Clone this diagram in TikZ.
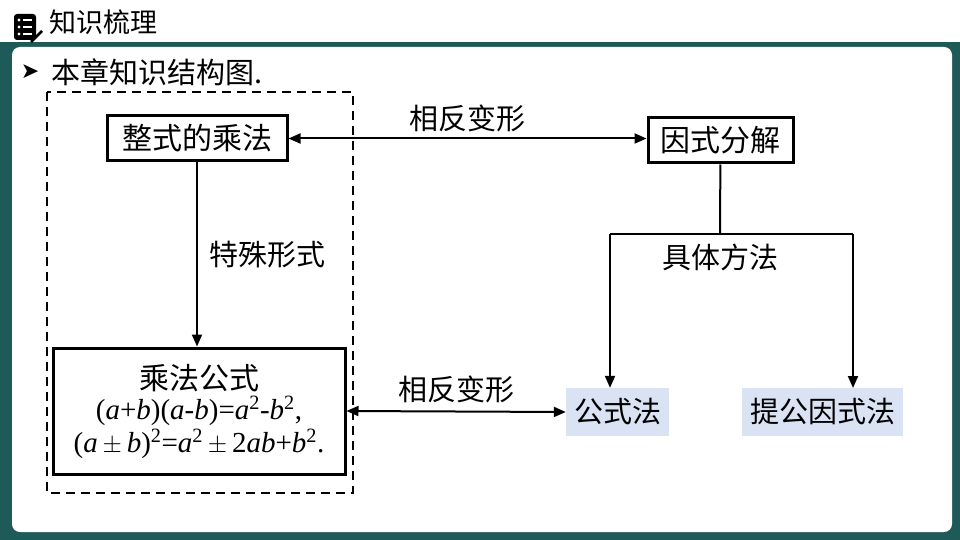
\documentclass[tikz,border=0pt]{standalone}
\usepackage{fontspec}
\setmainfont{Liberation Serif}
\newfontfamily\cjk{Noto Sans CJK SC}
\newfontfamily\sym{DejaVu Sans}
\usetikzlibrary{arrows.meta}
\definecolor{bandteal}{HTML}{1E5A57}
\definecolor{boxblue}{HTML}{DAE3F3}
\newcommand{\va}{\textit{a}}
\newcommand{\vb}{\textit{b}}
\newcommand{\sq}{\textsuperscript{2}}
\tikzset{
  box/.style={draw, line width=3pt, fill=white, minimum height=45pt, inner xsep=6pt, font=\cjk\fontsize{30}{34}\selectfont},
  tag/.style={fill=boxblue, minimum height=48pt, inner xsep=8pt, font=\cjk\fontsize{29}{34}\selectfont},
  lbl/.style={font=\cjk\fontsize{29}{34}\selectfont},
  link/.style={line width=2pt, -{Triangle[length=12pt,width=10pt]}},
  both/.style={line width=2pt, {Triangle[length=12pt,width=10pt]}-{Triangle[length=12pt,width=10pt]}}
}
\begin{document}
\begin{tikzpicture}[x=1pt,y=-1pt]
  \useasboundingbox (0,0) rectangle (960,540);
  % frame
  \fill[bandteal] (0,42) rectangle (960,540);
  \fill[white, rounded corners=8pt] (12,47) rectangle (952,532);
  \fill[black, rounded corners=3pt] (14,14) rectangle (36,40);
  \foreach \y in {20,27,34} {
    \fill[white] (19,\y) circle (1.6pt);
    \draw[white, line width=1.6pt] (23,\y) -- (32,\y);
  }
  \draw[black, line width=2.5pt] (31,42) -- (42,31);
  \node[anchor=west, font=\cjk\fontsize{27}{30}\selectfont] (title) at (46,22) {知识梳理};
  \node[font=\sym\fontsize{22}{26}\selectfont] (mark) at (30,72) {➤};
  \node[anchor=west, font=\cjk\fontsize{29}{32}\selectfont] (head) at (48,72) {本章知识结构图.};
  % structure
  \draw[line width=2pt, dash pattern=on 9pt off 6pt] (47,92) rectangle (353,493);
  \node[box, minimum width=180pt] (mul) at (197,138.5) {整式的乘法};
  \node[box, minimum width=145pt] (fac) at (720.5,140.5) {因式分解};
  \node[box, minimum width=292pt, minimum height=126pt, align=center] (formula) at (199,411) {%
    乘法公式\\[-4pt]
    {\rmfamily\fontsize{29}{34}\selectfont (\va+\vb)(\va-\vb)=\va\sq-\vb\sq,}\\[-1pt]
    {\rmfamily\fontsize{29}{34}\selectfont (\va\,$\pm$\,\vb)\sq=\va\sq\,$\pm$\,2\va\vb+\vb\sq.}};
  \node[tag] (pub) at (617.5,412) {公式法};
  \node[tag] (ext) at (822.5,412) {提公因式法};
  \coordinate (fork) at (720,234);
  \coordinate (forkl) at (610,234);
  \coordinate (forkr) at (853,234);
  \draw[both] (mul.east) -- (fac.west|-mul.east) node[lbl, midway, above=2pt] {相反变形};
  \draw[link] (mul) -- (formula.north-|mul) node[lbl, pos=0.5, right=8pt] {特殊形式};
  \draw[line width=2pt] (fac) -- (fork);
  \draw[line width=2pt] (forkl) -- (forkr);
  \draw[link] (forkl) -- (pub.north-|forkl);
  \draw[link] (forkr) -- ++(0,154);
  \node[lbl, below=6pt] (how) at (fork) {具体方法};
  \draw[both] (formula.east) -- (pub.west) node[lbl, midway, above=4pt] {相反变形};
\end{tikzpicture}
\end{document}
